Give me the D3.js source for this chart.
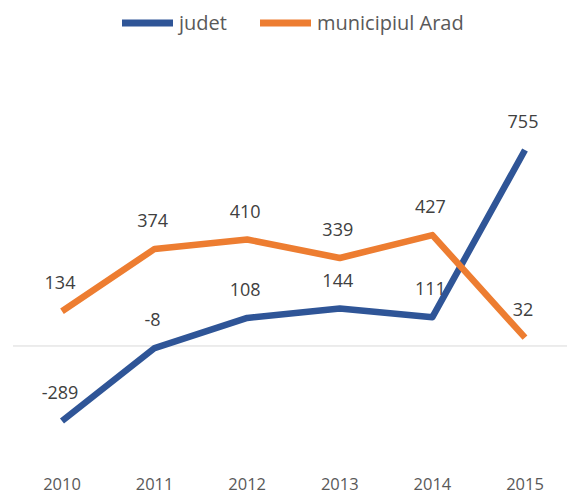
<!DOCTYPE html>
<html>
<head>
<meta charset="utf-8">
<script src="https://cdn.jsdelivr.net/npm/d3@7/dist/d3.min.js"></script>
<style>
  html, body { margin: 0; padding: 0; background: #fff; }
  svg { display: block; }
  text { font-family: "Open Sans", "Noto Sans", sans-serif; fill: #595959; }
  .value { fill: #404040; }
</style>
</head>
<body>
<svg id="chart" width="567" height="495"></svg>
<script>
// Annual figures per series
const years = ["2010", "2011", "2012", "2013", "2014", "2015"];
const judet = [-289, -8, 108, 144, 111, 755];
const municipiu = [134, 374, 410, 339, 427, 32];
const seriesNames = ["judet", "municipiul Arad"];
const seriesColors = ["#2F5597", "#ED7D31"];

const svg = d3.select("#chart");

const x = d3.scalePoint().domain(years).range([62, 525]);
const y = d3.scaleLinear().domain([-289, 755]).range([421, 150]);

// zero baseline
svg.append("line")
  .attr("x1", 13).attr("x2", 567)
  .attr("y1", y(0)).attr("y2", y(0))
  .attr("stroke", "#d9d9d9").attr("stroke-width", 1);

// year labels
svg.append("g").selectAll("text").data(years).join("text")
  .attr("x", d => x(d)).attr("y", 490)
  .attr("text-anchor", "middle")
  .attr("font-size", 16.5)
  .text(d => d);

const series = [judet, municipiu];
const line = d3.line().x((d, i) => x(years[i])).y(d => y(d));

series.forEach((vals, s) => {
  svg.append("path")
    .datum(vals)
    .attr("d", line)
    .attr("fill", "none")
    .attr("stroke", seriesColors[s])
    .attr("stroke-width", 6.5)
    .attr("stroke-linejoin", "round");
});

// value labels above each point
series.forEach((vals, s) => {
  svg.append("g").selectAll("text").data(vals).join("text")
    .attr("class", "value")
    .attr("x", (d, i) => x(years[i]) - 2)
    .attr("y", d => y(d) - 22)
    .attr("text-anchor", "middle")
    .attr("font-size", 18)
    .text(d => d);
});

// legend
const legend = svg.append("g");
const legendItems = [{x: 122, tx: 179}, {x: 260, tx: 317}];
seriesNames.forEach((name, i) => {
  legend.append("line")
    .attr("x1", legendItems[i].x).attr("x2", legendItems[i].x + 51)
    .attr("y1", 23).attr("y2", 23)
    .attr("stroke", seriesColors[i]).attr("stroke-width", 7);
  legend.append("text")
    .attr("x", legendItems[i].tx).attr("y", 30)
    .attr("font-size", 20)
    .text(name);
});
</script>
</body>
</html>
